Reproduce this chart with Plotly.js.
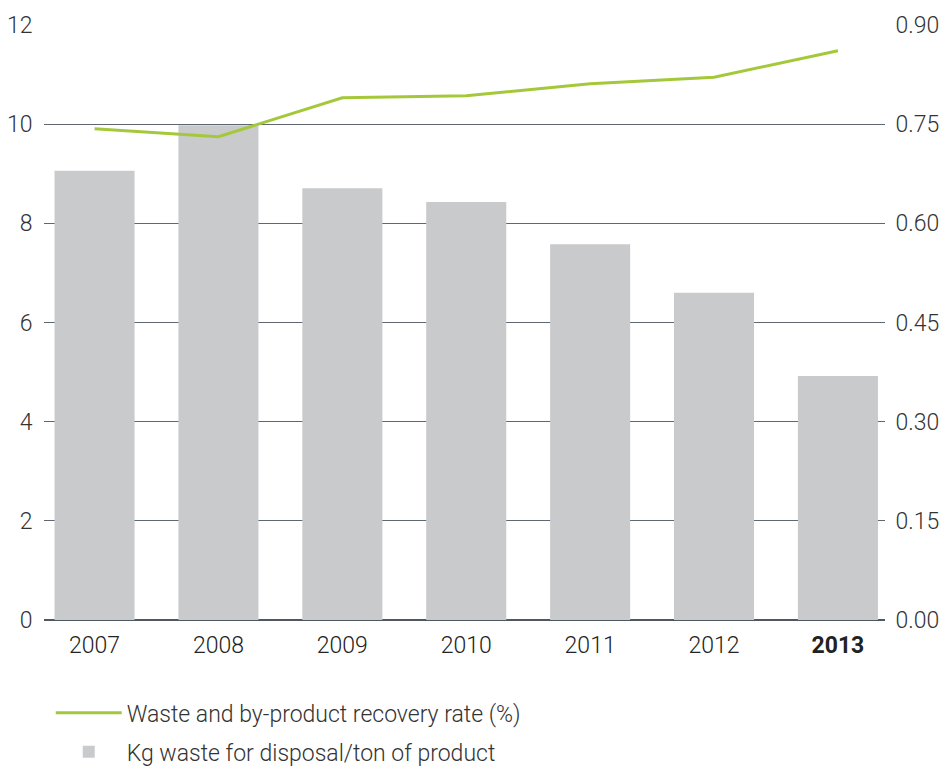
<!DOCTYPE html>
<html>
<head>
<meta charset="utf-8">
<script src="https://cdn.plot.ly/plotly-3.0.1.min.js"></script>
<style>html,body{margin:0;padding:0;background:#fff;}#chart{width:944px;height:769px;}</style>
</head>
<body>
<div id="chart"></div>
<script>
var years = ["2007","2008","2009","2010","2011","2012","2013"];
var yearLabels = ["2007","2008","2009","2010","2011","2012","<b>2013</b>"];
var wasteKg = [9.06, 9.98, 8.71, 8.43, 7.58, 6.60, 4.92];
var recoveryRate = [0.743, 0.731, 0.790, 0.793, 0.811, 0.821, 0.861];
var leftTicks = [0, 2, 4, 6, 8, 10, 12];
var rightTicks = [0, 0.15, 0.30, 0.45, 0.60, 0.75, 0.90];
var rightTickText = ["0.00","0.15","0.30","0.45","0.60","0.75","0.90"];

var mainFont = "Roboto, 'Liberation Sans', sans-serif";

var traces = [
  {
    type: "scatter", mode: "lines", x: years, y: recoveryRate, yaxis: "y2",
    name: "Waste and by-product recovery rate (%)",
    line: {color: "#a5c83b", width: 3},
    legendgroup: "a"
  },
  {
    type: "bar", x: years, y: wasteKg,
    name: "Kg waste for disposal/ton of product",
    marker: {color: "#c9cacc"},
    legendgroup: "b"
  }
];

var layout = {
  width: 944, height: 769,
  margin: {l: 44, r: 59, t: 25, b: 149},
  paper_bgcolor: "#fff", plot_bgcolor: "#fff",
  bargap: 0.354,
  showlegend: true,
  legend: {x: 0.008, y: 0.101, xref: "paper", yref: "container", xanchor: "left", yanchor: "top",
           traceorder: "grouped", tracegroupgap: 6, itemwidth: 66,
           font: {family: mainFont, size: 23, color: "#333", weight: 300}},
  xaxis: {
    type: "category", range: [-0.408, 6.38],
    tickvals: years, ticktext: yearLabels,
    tickfont: {family: mainFont, size: 23, color: "#222", weight: 300},
    showgrid: false, zeroline: false, showline: false,
    ticks: "outside", ticklen: 4, tickcolor: "rgba(0,0,0,0)"
  },
  yaxis: {
    range: [0, 12], tickvals: leftTicks,
    tickfont: {family: mainFont, size: 23, color: "#333", weight: 300},
    showgrid: true, gridcolor: "#5d6872", gridwidth: 1.3,
    zeroline: true, zerolinecolor: "#4d5863", zerolinewidth: 2,
    ticks: "outside", ticklen: 6, tickcolor: "rgba(0,0,0,0)", showline: false
  },
  yaxis2: {
    overlaying: "y", side: "right", range: [0, 0.9],
    tickvals: rightTicks, ticktext: rightTickText,
    tickfont: {family: mainFont, size: 23, color: "#333", weight: 300},
    showgrid: false, zeroline: false, showline: false,
    ticks: "outside", ticklen: 5, tickcolor: "rgba(0,0,0,0)"
  }
};

Plotly.newPlot("chart", traces, layout, {displayModeBar: false, staticPlot: true});
</script>
</body>
</html>
